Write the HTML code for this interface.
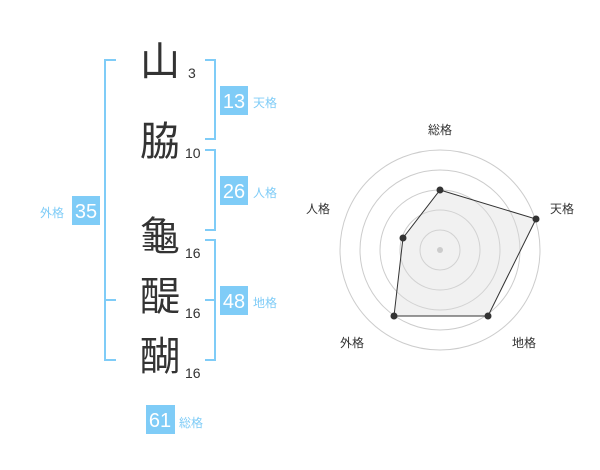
<!DOCTYPE html>
<html><head><meta charset="utf-8"><style>
body{margin:0;width:600px;height:470px;background:#fff;overflow:hidden}
</style></head><body>
<svg width="600" height="470" xmlns="http://www.w3.org/2000/svg" style="position:absolute;left:0;top:0">
<g fill="none" stroke="#7fccf7" stroke-width="2">
<path d="M116 60H105V360H116M105 300H116"/>
<path d="M205 60H215V139H205"/>
<path d="M205 150H215V230H205"/>
<path d="M205 240H215V360H205M215 300H205"/>
</g>
<g fill="#7fccf7">
<rect x="220" y="86" width="28" height="29"/>
<rect x="220" y="176" width="28" height="29"/>
<rect x="220" y="286" width="28" height="29"/>
<rect x="72" y="196" width="28" height="29"/>
<rect x="146" y="405" width="29" height="29"/>
</g>
<g fill="#fff" font-family="Liberation Sans, sans-serif" font-size="20" text-anchor="middle">
<text x="234" y="108">13</text><text x="234" y="198">26</text><text x="234" y="308">48</text>
<text x="86" y="218">35</text><text x="160" y="427">61</text>
</g>
<g fill="#7fccf7" font-family="Liberation Sans, Noto Sans CJK JP, sans-serif" font-size="12">
<text x="253" y="107">天格</text><text x="253" y="197">人格</text><text x="253" y="307">地格</text>
<text x="40" y="217">外格</text><text x="179" y="427">総格</text>
</g>
<g fill="#333" font-family="Liberation Sans, Noto Sans CJK JP, sans-serif" font-size="40" text-anchor="middle">
<text x="160" y="75">山</text><text x="160" y="155">脇</text><text x="160" y="250">龜</text>
<text x="160" y="310">醍</text><text x="160" y="370">醐</text>
</g>
<g fill="#333" font-family="Liberation Sans, sans-serif" font-size="14">
<text x="188" y="78">3</text><text x="185" y="158">10</text><text x="185" y="258">16</text>
<text x="185" y="318">16</text><text x="185" y="378">16</text>
</g>
<g fill="none" stroke="#ccc" stroke-width="1">
<circle cx="440" cy="250" r="20"/><circle cx="440" cy="250" r="40"/><circle cx="440" cy="250" r="60"/>
<circle cx="440" cy="250" r="80"/><circle cx="440" cy="250" r="100"/>
</g>
<polygon points="440,190 536,219 488,316 394,316 403,238" fill="rgba(220,220,220,0.4)" stroke="#333" stroke-width="1"/>
<circle cx="440" cy="250" r="3" fill="#ccc"/>
<g fill="#333">
<circle cx="440" cy="190" r="3.5"/><circle cx="536" cy="219" r="3.5"/><circle cx="488" cy="316" r="3.5"/>
<circle cx="394" cy="316" r="3.5"/><circle cx="403" cy="238" r="3.5"/>
</g>
<g fill="#333" font-family="Liberation Sans, Noto Sans CJK JP, sans-serif" font-size="12" text-anchor="middle">
<text x="440" y="134">総格</text><text x="562" y="213">天格</text><text x="524" y="347">地格</text>
<text x="352" y="347">外格</text><text x="318" y="213">人格</text>
</g>
</svg>
</body></html>
